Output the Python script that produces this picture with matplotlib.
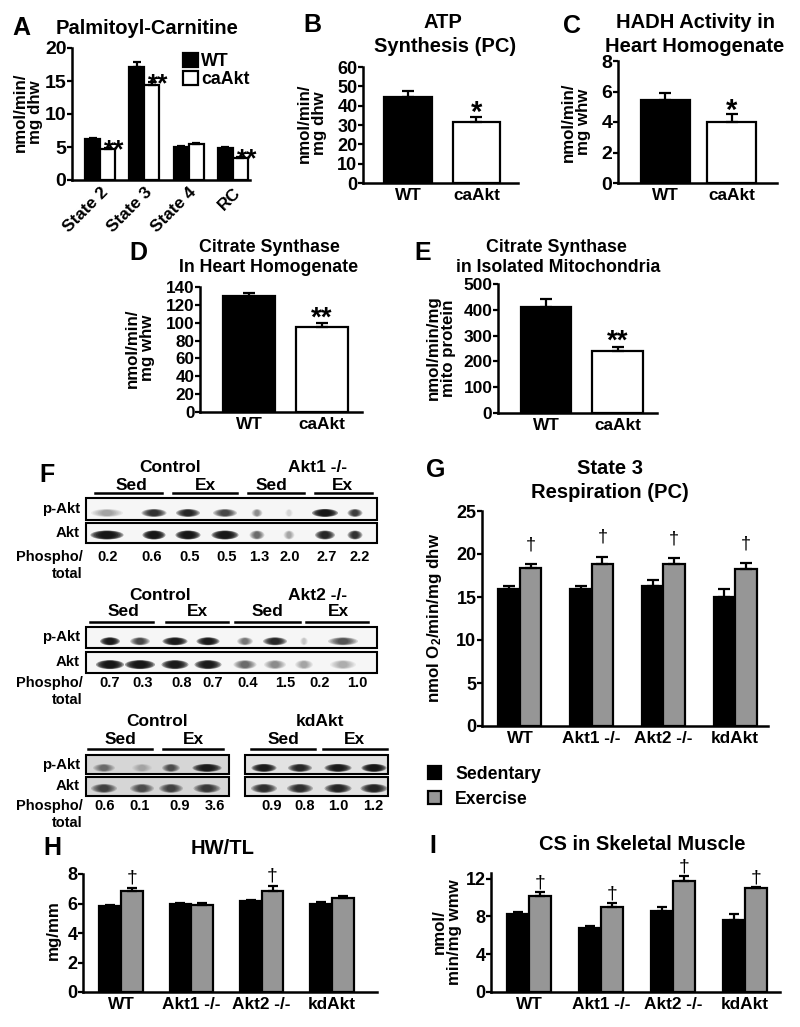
import matplotlib
matplotlib.use('Agg')
import matplotlib.pyplot as plt
import matplotlib.transforms as mtrans
from matplotlib.patches import Rectangle, Ellipse
import numpy as np

plt.rcParams['font.family'] = ['Liberation Sans', 'DejaVu Sans']
plt.rcParams['font.weight'] = 'bold'
plt.rcParams['mathtext.fontset'] = 'custom'
plt.rcParams['mathtext.rm'] = 'Liberation Sans:bold'
plt.rcParams['mathtext.default'] = 'rm'

# ---------------- data ----------------
a_cats = ['State 2', 'State 3', 'State 4', 'RC']
a_wt = [6.2, 17.1, 5.0, 4.8]
a_wt_err = [0.2, 0.8, 0.2, 0.2]
a_ca = [4.7, 14.4, 5.45, 3.3]
a_ca_err = [0.2, 0.5, 0.15, 0.2]
a_sig = ['**', '**', '', '**']

two_cats = ['WT', 'caAkt']
b_vals = [44.5, 31.5]
b_err = [3.0, 2.6]
c_vals = [5.44, 4.0]
c_err = [0.45, 0.5]
d_vals = [130, 95]
d_err = [3.5, 4.5]
e_vals = [411, 240]
e_err = [31, 16]
b_sig, c_sig, d_sig, e_sig = '*', '*', '**', '**'

groups = ['WT', 'Akt1 -/-', 'Akt2 -/-', 'kdAkt']
g_sed = [15.9, 15.9, 16.3, 15.0]
g_sed_err = [0.4, 0.4, 0.7, 0.9]
g_ex = [18.4, 18.8, 18.8, 18.3]
g_ex_err = [0.4, 0.9, 0.7, 0.6]
g_sig = ['†', '†', '†', '†']

h_sed = [5.83, 5.97, 6.17, 5.97]
h_sed_err = [0.07, 0.04, 0.07, 0.12]
h_ex = [6.85, 5.9, 6.85, 6.37]
h_ex_err = [0.2, 0.13, 0.35, 0.13]
h_sig = ['†', '', '†', '']

i_sed = [8.3, 6.8, 8.6, 7.6]
i_sed_err = [0.2, 0.2, 0.4, 0.7]
i_ex = [10.2, 9.0, 11.8, 11.0]
i_ex_err = [0.4, 0.45, 0.5, 0.15]
i_sig = ['†', '†', '†', '†']

# western blots: band darkness (0-1) and phospho/total ratios
f1_groups = ['Control', 'Akt1 -/-']
f1_pakt = [0.35, 0.85, 0.9, 0.75, 0.45, 0.12, 1.0, 0.8]
f1_akt = [1.0, 1.0, 1.0, 1.0, 0.6, 0.35, 0.9, 0.85]
f1_ratio = [0.2, 0.6, 0.5, 0.5, 1.3, 2.0, 2.7, 2.2]
f2_groups = ['Control', 'Akt2 -/-']
f2_pakt = [0.95, 0.75, 0.95, 0.95, 0.55, 0.9, 0.2, 0.7]
f2_akt = [1.0, 1.0, 0.95, 0.95, 0.6, 0.45, 0.35, 0.3]
f2_ratio = [0.7, 0.3, 0.8, 0.7, 0.4, 1.5, 0.2, 1.0]
f3_groups = ['Control', 'kdAkt']
f3_pakt = [0.55, 0.25, 0.7, 0.95, 0.95, 0.9, 0.95, 1.0]
f3_akt = [0.75, 0.7, 0.75, 0.8, 0.85, 0.85, 0.9, 0.9]
f3_ratio = [0.6, 0.1, 0.9, 3.6, 0.9, 0.8, 1.0, 1.2]
conds = ['Sed', 'Ex', 'Sed', 'Ex']

# ---------------- figure ----------------
W, H = 800, 1027
fig = plt.figure(figsize=(8, 10.27), dpi=100)
pix = mtrans.Affine2D().scale(1 / W, -1 / H).translate(0, 1) + fig.transFigure

ov = fig.add_axes([0, 0, 1, 1])
ov.set_xlim(0, W)
ov.set_ylim(H, 0)
ov.axis('off')


def add_ax(l, t, r, b):
    return fig.add_axes([l / W, 1 - b / H, (r - l) / W, (b - t) / H])


def style(ax, ylim, yticks, xlim, fs=13, xfs=12.4, xpad=3.5):
    ax.set_ylim(*ylim)
    ax.set_xlim(*xlim)
    ax.set_yticks(yticks)
    for s in ['top', 'right']:
        ax.spines[s].set_visible(False)
    for s in ['left', 'bottom']:
        ax.spines[s].set_linewidth(1.8)
    ax.tick_params(axis='y', length=3.5, width=1.6, pad=0.5, labelsize=fs)
    ax.tick_params(axis='x', length=0, labelsize=xfs, pad=xpad)
    ax.patch.set_visible(False)


def T(x, y, s, fs, **kw):
    kw.setdefault('ha', 'center')
    kw.setdefault('va', 'center')
    ov.text(x, y, s, fontsize=fs, fontweight=kw.pop('fw', 'bold'), **kw)


LW = 1.6

# ---- Panel A ----
axA = add_ax(72, 48, 250, 180)
xa = np.arange(len(a_cats))
wa = 0.34
bw = axA.bar(xa - wa / 2, a_wt, wa, color='black', edgecolor='black', lw=LW, label='WT', zorder=2)
bc = axA.bar(xa + wa / 2, a_ca, wa, color='white', edgecolor='black', lw=LW, label='caAkt', zorder=2)
axA.errorbar(xa - wa / 2, a_wt, yerr=[np.zeros(4), a_wt_err], fmt='none', ecolor='black',
             elinewidth=LW, capsize=3, capthick=LW, zorder=3)
axA.errorbar(xa + wa / 2, a_ca, yerr=[np.zeros(4), a_ca_err], fmt='none', ecolor='black',
             elinewidth=LW, capsize=3, capthick=LW, zorder=3)
for i, s in enumerate(a_sig):
    if s:
        axA.annotate(s, (xa[i] + wa / 2 - 0.08, a_ca[i] + a_ca_err[i]), xytext=(0, -7),
                     textcoords='offset points', ha='left', va='baseline', fontsize=19, fontweight='bold')
style(axA, (0, 20), [0, 5, 10, 15, 20], (-0.636, 3.386), fs=14)
axA.set_xticks(xa)
axA.set_xticklabels(a_cats, rotation=45, ha='right', va='top', rotation_mode='anchor', fontsize=12.4)
axA.legend(handles=[bw, bc], loc='upper left', bbox_to_anchor=(183, 53), bbox_transform=pix,
           frameon=False, borderpad=0, borderaxespad=0, handlelength=0.85, handleheight=0.85,
           handletextpad=0.15, labelspacing=0.05, prop={'size': 12.8, 'weight': 'bold'})
T(21, 28, 'A', 18)
T(147, 28, 'Palmitoyl-Carnitine', 14.5)
T(28, 112, 'nmol/min/\nmg dhw', 12.2, rotation=90, linespacing=1.0)


def two_bar(box, vals, errs, sig, ylim, yticks, xlim, width, cap, fs, sig_dy, sig_fs):
    ax = add_ax(*box)
    x = np.arange(2)
    ax.bar(x, vals, width, color=['black', 'white'], edgecolor='black', lw=LW, zorder=2)
    ax.errorbar(x, vals, yerr=[np.zeros(2), errs], fmt='none', ecolor='black',
                elinewidth=LW, capsize=cap, capthick=LW, zorder=3)
    ax.annotate(sig, (x[1], vals[1] + errs[1]), xytext=(0, sig_dy), textcoords='offset points',
                ha='center', va='baseline', fontsize=sig_fs, fontweight='bold')
    style(ax, ylim, yticks, xlim, fs=fs)
    ax.set_xticks(x)
    ax.set_xticklabels(two_cats)
    return ax


two_bar((363, 67, 518, 183), b_vals, b_err, b_sig, (0, 60), range(0, 61, 10), (-0.657, 1.606), 0.70, 4.5, 13, -3, 21)
T(312, 25, 'B', 18)
T(443, 23, 'ATP', 14.5)
T(445, 47, 'Synthesis (PC)', 14.5)
T(312, 123, 'nmol/min/\nmg dhw', 12.2, rotation=90, linespacing=1.0)

two_bar((618, 61, 777, 183), c_vals, c_err, c_sig, (0, 8), [0, 2, 4, 6, 8], (-0.714, 1.677), 0.737, 4.5, 14, -3, 21)
T(572, 26, 'C', 18)
T(695, 23, 'HADH Activity in', 14.5)
T(695, 47, 'Heart Homogenate', 14.5)
T(576, 122, 'nmol/min/\nmg whw', 12.2, rotation=90, linespacing=1.0)

two_bar((200, 287, 362, 412), d_vals, d_err, d_sig, (0, 140), range(0, 141, 20), (-0.671, 1.548), 0.70, 4.5, 12.3, -1.5, 20)
T(138, 253, 'D', 18)
T(269, 247, 'Citrate Synthase', 12.8)
T(269, 267, 'In Heart Homogenate', 12.8)
T(140, 348, 'nmol/min/\nmg whw', 12.2, rotation=90, linespacing=1.0)

two_bar((498, 284, 657, 413), e_vals, e_err, e_sig, (0, 500), range(0, 501, 100), (-0.671, 1.552), 0.70, 4.5, 12.5, -1.5, 20)
T(423, 253, 'E', 18)
T(556, 247, 'Citrate Synthase', 12.8)
T(558, 267, 'in Isolated Mitochondria', 12.8)
T(441, 348, 'nmol/min/mg\nmito protein', 12.2, rotation=90, linespacing=1.0)


def grouped(box, sed, sed_err, ex, ex_err, sig, ylim, yticks, xlim, width, cap, sig_dy, sig_fs):
    ax = add_ax(*box)
    x = np.arange(len(sed))
    b1 = ax.bar(x - width / 2, sed, width, color='black', edgecolor='black', lw=LW, label='Sedentary', zorder=2)
    b2 = ax.bar(x + width / 2, ex, width, color='#969696', edgecolor='black', lw=LW, label='Exercise', zorder=2)
    ax.errorbar(x - width / 2, sed, yerr=[np.zeros(len(sed)), sed_err], fmt='none', ecolor='black',
                elinewidth=LW, capsize=cap, capthick=LW, zorder=3)
    ax.errorbar(x + width / 2, ex, yerr=[np.zeros(len(ex)), ex_err], fmt='none', ecolor='black',
                elinewidth=LW, capsize=cap, capthick=LW, zorder=3)
    for i, s in enumerate(sig):
        if s:
            ax.annotate(s, (x[i] + width / 2, ex[i] + ex_err[i]), xytext=(0, sig_dy), textcoords='offset points',
                        ha='center', va='baseline', fontsize=sig_fs, fontweight='normal')
    style(ax, ylim, yticks, xlim, fs=13)
    ax.set_xticks(x)
    ax.set_xticklabels(groups)
    return ax, b1, b2


axG, gs, ge = grouped((482, 511, 768, 726), g_sed, g_sed_err, g_ex, g_ex_err, g_sig, (0, 25), range(0, 26, 5),
                      (-0.53, 3.46), 0.30, 4.3, 10.5, 13)
T(436, 470, 'G', 18)
T(610, 468, 'State 3', 14.5)
T(610, 493, 'Respiration (PC)', 14.5)
T(435, 618, 'nmol O$_2$/min/mg dhw', 12.2, rotation=90)
fig.legend(handles=[gs, ge], loc='upper left', bbox_to_anchor=(428, 766), bbox_transform=pix,
           frameon=False, borderpad=0, borderaxespad=0, handlelength=0.75, handleheight=0.75,
           handletextpad=0.8, labelspacing=0.45, prop={'size': 12.7, 'weight': 'bold'})

grouped((83, 874, 377, 992), h_sed, h_sed_err, h_ex, h_ex_err, h_sig, (0, 8), [0, 2, 4, 6, 8],
        (-0.54, 3.64), 0.31, 3.5, 4, 14)
T(52, 848, 'H', 18)
T(223, 849, 'HW/TL', 14.5)
T(53, 930, 'mg/mm', 12.2, rotation=90)

grouped((491, 873, 780, 992), i_sed, i_sed_err, i_ex, i_ex_err, i_sig, (0, 12.6), [0, 4, 8, 12],
        (-0.53, 3.49), 0.305, 3.5, 3, 14)
T(433, 846, 'I', 18)
T(642, 845, 'CS in Skeletal Muscle', 14.5)
T(447, 932, 'nmol/\nmin/mg wmw', 12.2, rotation=90, linespacing=1.0)


# ---------------- Panel F (western blots) ----------------
def band(x, y, w, h, dark):
    n = 7
    dark = min(dark, 0.97)
    a = 1 - (1 - dark) ** (1 / n)
    for k in range(n):
        f = 1 - 0.65 * k / (n - 1)
        ov.add_patch(Ellipse((x, y), w * f, h * (0.55 + 0.45 * f), facecolor='#111111', alpha=a, lw=0))


def blot(groups_, pakt, akt, ratio, lane_x, pw, aw, boxes, ptop, pbot, atop, abot, hdr_y, cond_y, cond_x,
         grp_x, lines, line_y, num_x, num_y, bg):
    for (l, r), c in zip(boxes, bg):
        ov.add_patch(Rectangle((l, ptop), r - l, pbot - ptop, facecolor=c, edgecolor='black', lw=1.5, zorder=1))
        ov.add_patch(Rectangle((l, atop), r - l, abot - atop, facecolor=c, edgecolor='black', lw=1.5, zorder=1))
    py = ptop + 0.68 * (pbot - ptop)
    ay = atop + 0.6 * (abot - atop)
    for i in range(len(lane_x)):
        band(lane_x[i], py, pw[i], 8, pakt[i])
        band(lane_x[i], ay, aw[i], 9, akt[i])
    for gx, g in zip(grp_x, groups_):
        T(gx, hdr_y, g, 12.5)
    for cx, c in zip(cond_x, conds):
        T(cx, cond_y, c, 12.5)
    for (l, r) in lines:
        ov.plot([l, r], [line_y, line_y], color='black', lw=1.8)
    T(80, (ptop + pbot) / 2, 'p-Akt', 10.8, ha='right')
    T(80, (atop + abot) / 2, 'Akt', 10.8, ha='right')
    T(83, num_y, 'Phospho/', 10.5, ha='right')
    T(83, num_y + 17, 'total', 10.5, ha='right')
    for nx, v in zip(num_x, ratio):
        T(nx, num_y, f'{v:.1f}', 10.5)


blot(f1_groups, f1_pakt, f1_akt, f1_ratio,
     [107, 154, 188, 225, 257, 289, 325, 355], [32, 25, 24, 24, 11, 8, 26, 15], [33, 23, 25, 27, 15, 11, 20, 15],
     [(86, 377)], 498, 520, 523, 543, 467, 485, [131, 205, 271, 342], [170, 318],
     [(95, 162), (173, 237), (248, 304), (315, 372)], 493,
     [108, 152, 190, 227, 259, 290, 327, 360], 557, ['#f6f6f6'])
T(47, 475, 'F', 18)

blot(f2_groups, f2_pakt, f2_akt, f2_ratio,
     [110, 140, 175, 208, 245, 275, 304, 343], [20, 20, 25, 23, 16, 24, 8, 30], [28, 30, 27, 27, 23, 22, 18, 26],
     [(86, 377)], 627, 648, 652, 673, 595, 612, [123, 197, 267, 338], [160, 318],
     [(90, 153), (166, 228), (235, 300), (306, 368)], 622,
     [110, 143, 182, 213, 248, 285, 320, 357], 683, ['#f6f6f6'])

blot(f3_groups, f3_pakt, f3_akt, f3_ratio,
     [104, 142, 171, 207, 264, 300, 338, 374], [22, 20, 18, 29, 25, 24, 27, 25], [26, 24, 24, 27, 26, 26, 27, 27],
     [(86, 229), (245, 388)], 755, 774, 777, 796, 722, 740, [120, 193, 283, 354], [157, 320],
     [(88, 152), (163, 223), (251, 315), (323, 387)], 749,
     [105, 140, 180, 215, 272, 305, 338, 373], 806, ['#d6d6d6', '#e2e2e2'])

fig.savefig('out.png', dpi=100)
